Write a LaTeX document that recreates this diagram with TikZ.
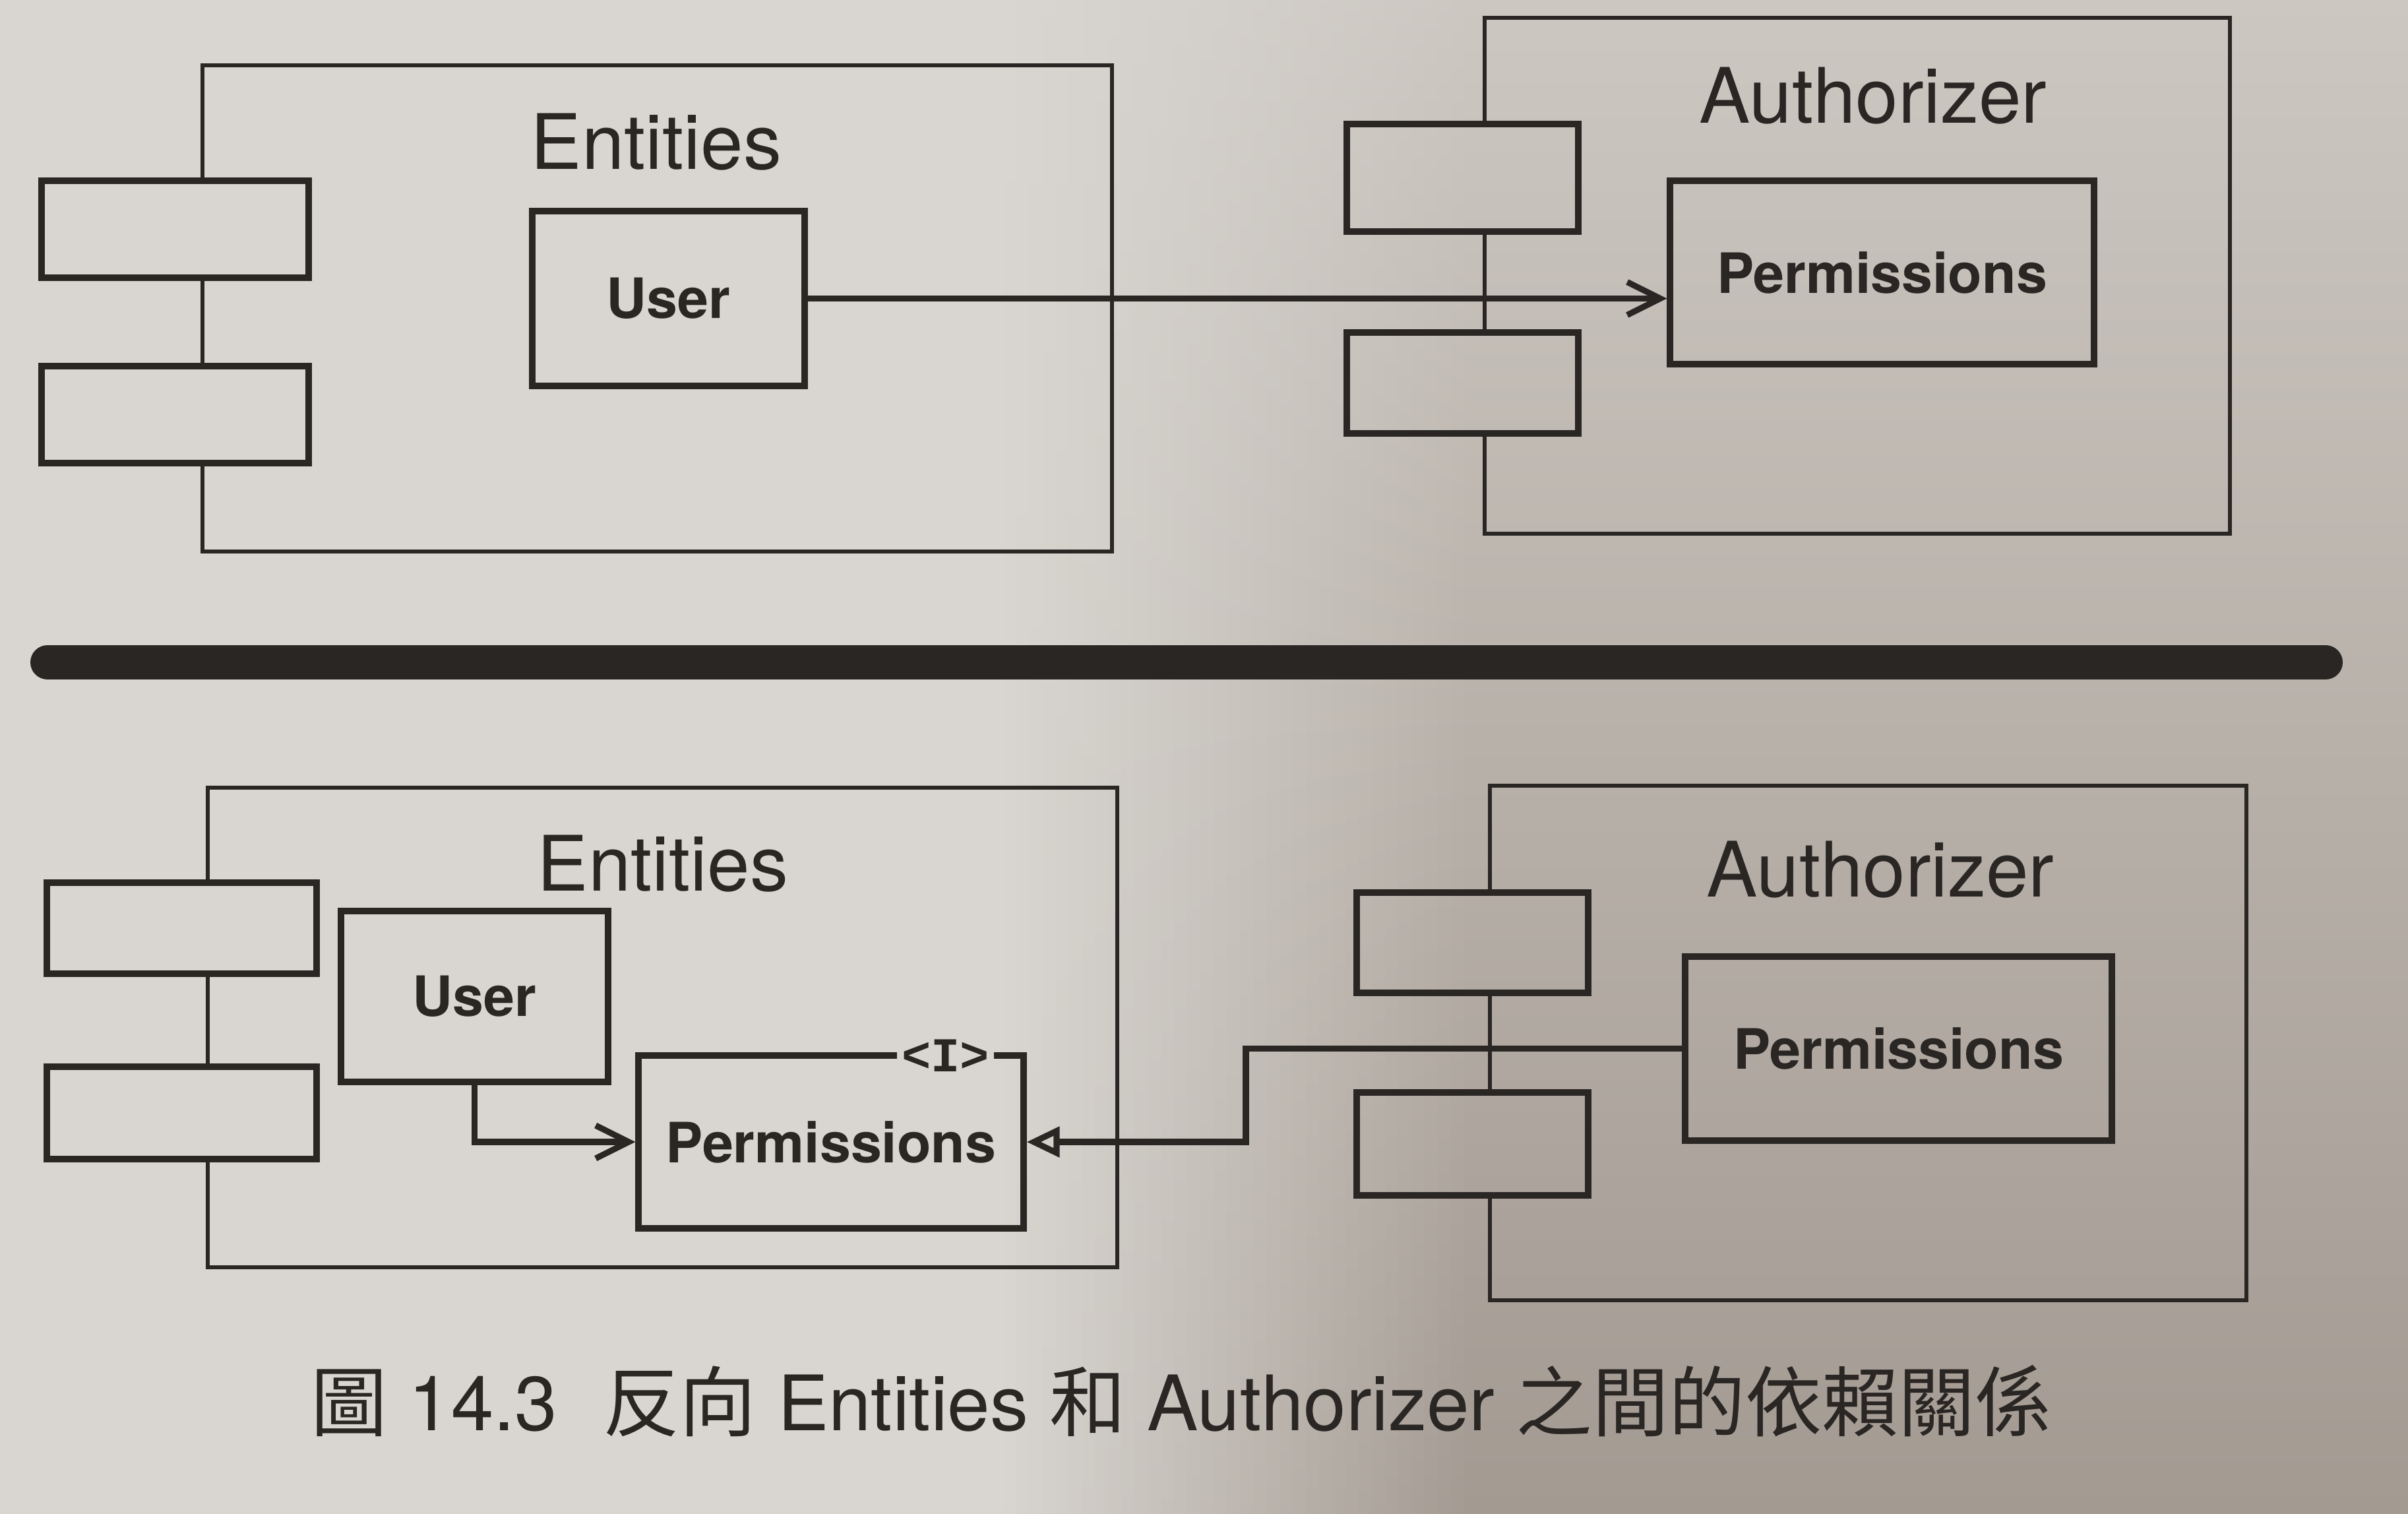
\documentclass[tikz,border=0pt]{standalone}
\usepackage{fontspec}
\setmainfont{TeX Gyre Heros}
\newfontfamily\cjk{Noto Sans CJK TC}
\newfontfamily\monofont{Liberation Mono}
\usetikzlibrary{arrows.meta}

\definecolor{ink}{HTML}{2A2624}
\definecolor{paper}{HTML}{D9D6D1}
\definecolor{shadetop}{HTML}{CCC7C1}
\definecolor{shadebot}{HTML}{A39A92}

\tikzset{
  compframe/.style={draw=ink, line width=1.7pt, line join=miter},
  compbox/.style={inner sep=0pt},
  porttab/.style={draw=ink, line width=2.6pt, inner sep=0pt},
  classbox/.style={draw=ink, line width=2.6pt, inner sep=0pt, text=ink,
    font=\bfseries\fontsize{24}{28}\selectfont},
  comptitle/.style={text=ink, font=\fontsize{33}{38}\selectfont},
  dep/.style={draw=ink, line width=2.6pt, -{Straight Barb[length=0.5cm, width=0.5cm]}},
  impl/.style={draw=ink, line width=2.6pt, -{Triangle[open, length=0.5cm, width=0.45cm]}},
}

\begin{document}
\begin{tikzpicture}
  \useasboundingbox (0,0) rectangle (36.51,-22.95);
  % paper and the shadow on the right
  \fill[paper] (0,0) rectangle (36.51,-22.95);
  \foreach \i in {1,...,35} {
    \pgfmathsetmacro\p{\i*100/36}
    \shade[top color=shadetop!\p!paper, bottom color=shadebot!\p!paper]
      ({15+\i*0.2},0) rectangle ({15.25+\i*0.2},-22.95);
  }
  \shade[top color=shadetop, bottom color=shadebot] (22.2,0) rectangle (36.51,-22.95);

  % upper figure
  \node[compbox, minimum width=13.77cm, minimum height=7.35cm] (ent1) at (9.965,-4.675) {};
  \node[porttab, minimum width=4.05cm, minimum height=1.47cm] (ent1p1) at (2.655,-3.475) {};
  \node[porttab, minimum width=4.05cm, minimum height=1.47cm] (ent1p2) at (2.655,-6.285) {};
  \node[comptitle] (ent1name) at (9.95,-2.15) {Entities};
  \node[classbox, minimum width=4.13cm, minimum height=2.65cm] (user1) at (10.135,-4.525) {User};

  \node[compbox, minimum width=11.28cm, minimum height=7.80cm] (auth1) at (28.16,-4.18) {};
  \node[porttab, minimum width=3.51cm, minimum height=1.63cm] (auth1p1) at (22.175,-2.695) {};
  \node[porttab, minimum width=3.51cm, minimum height=1.53cm] (auth1p2) at (22.175,-5.805) {};
  \node[comptitle] (auth1name) at (28.40,-1.45) {Authorizer};
  \node[classbox, minimum width=6.43cm, minimum height=2.78cm] (perm1) at (28.535,-4.13) {Permissions};

  \draw[dep] (user1.east) -- (user1.east -| perm1.west);

  % divider
  \coordinate (barl) at (0.72,-10.04);
  \coordinate (barr) at (35.26,-10.04);
  \draw[ink, line width=0.52cm, line cap=round] (barl) -- (barr);

  % lower figure
  \node[compbox, minimum width=13.77cm, minimum height=7.25cm] (ent2) at (10.045,-15.575) {};
  \node[porttab, minimum width=4.09cm, minimum height=1.38cm] (ent2p1) at (2.755,-14.07) {};
  \node[porttab, minimum width=4.09cm, minimum height=1.40cm] (ent2p2) at (2.755,-16.87) {};
  \node[comptitle] (ent2name) at (10.05,-13.09) {Entities};
  \node[classbox, minimum width=4.05cm, minimum height=2.59cm] (user2) at (7.195,-15.105) {User};
  \node[classbox, minimum width=5.84cm, minimum height=2.62cm] (permI) at (12.60,-17.31) {Permissions};
  \node[fill=paper, inner xsep=2pt, inner ysep=0pt, text=ink,
    font=\monofont\bfseries\fontsize{21}{23}\selectfont] (iface) at ([xshift=-1.23cm, yshift=-0.05cm]permI.north east) {<I>};

  \node[compbox, minimum width=11.45cm, minimum height=7.78cm] (auth2) at (28.325,-15.81) {};
  \node[porttab, minimum width=3.51cm, minimum height=1.52cm] (auth2p1) at (22.325,-14.29) {};
  \node[porttab, minimum width=3.51cm, minimum height=1.56cm] (auth2p2) at (22.325,-17.34) {};
  \node[comptitle] (auth2name) at (28.51,-13.18) {Authorizer};
  \node[classbox, minimum width=6.47cm, minimum height=2.79cm] (perm2) at (28.785,-15.895) {Permissions};

  \coordinate (bend) at (18.89,-17.31);
  \draw[dep] (user2.south) |- (permI.west);
  \draw[impl] (perm2.west) -| (bend) -- (permI.east);

  % component outlines, broken where the ports sit
  \foreach \c/\pa/\pb in {ent1/ent1p1/ent1p2, auth1/auth1p1/auth1p2, ent2/ent2p1/ent2p2, auth2/auth2p1/auth2p2} {
    \draw[compframe] (\pa.north -| \c.west) |- (\c.north east) |- (\c.south west) -- (\pb.south -| \c.west);
    \draw[compframe] (\pa.south -| \c.west) -- (\pb.north -| \c.west);
  }

  \node[text=ink, font=\fontsize{33}{38}\selectfont] (caption) at (17.91,-21.24)
    {{\cjk 圖} 14.3\hspace{0.6em}{\cjk 反向} Entities {\cjk 和} Authorizer {\cjk 之間的依賴關係}};
\end{tikzpicture}
\end{document}
